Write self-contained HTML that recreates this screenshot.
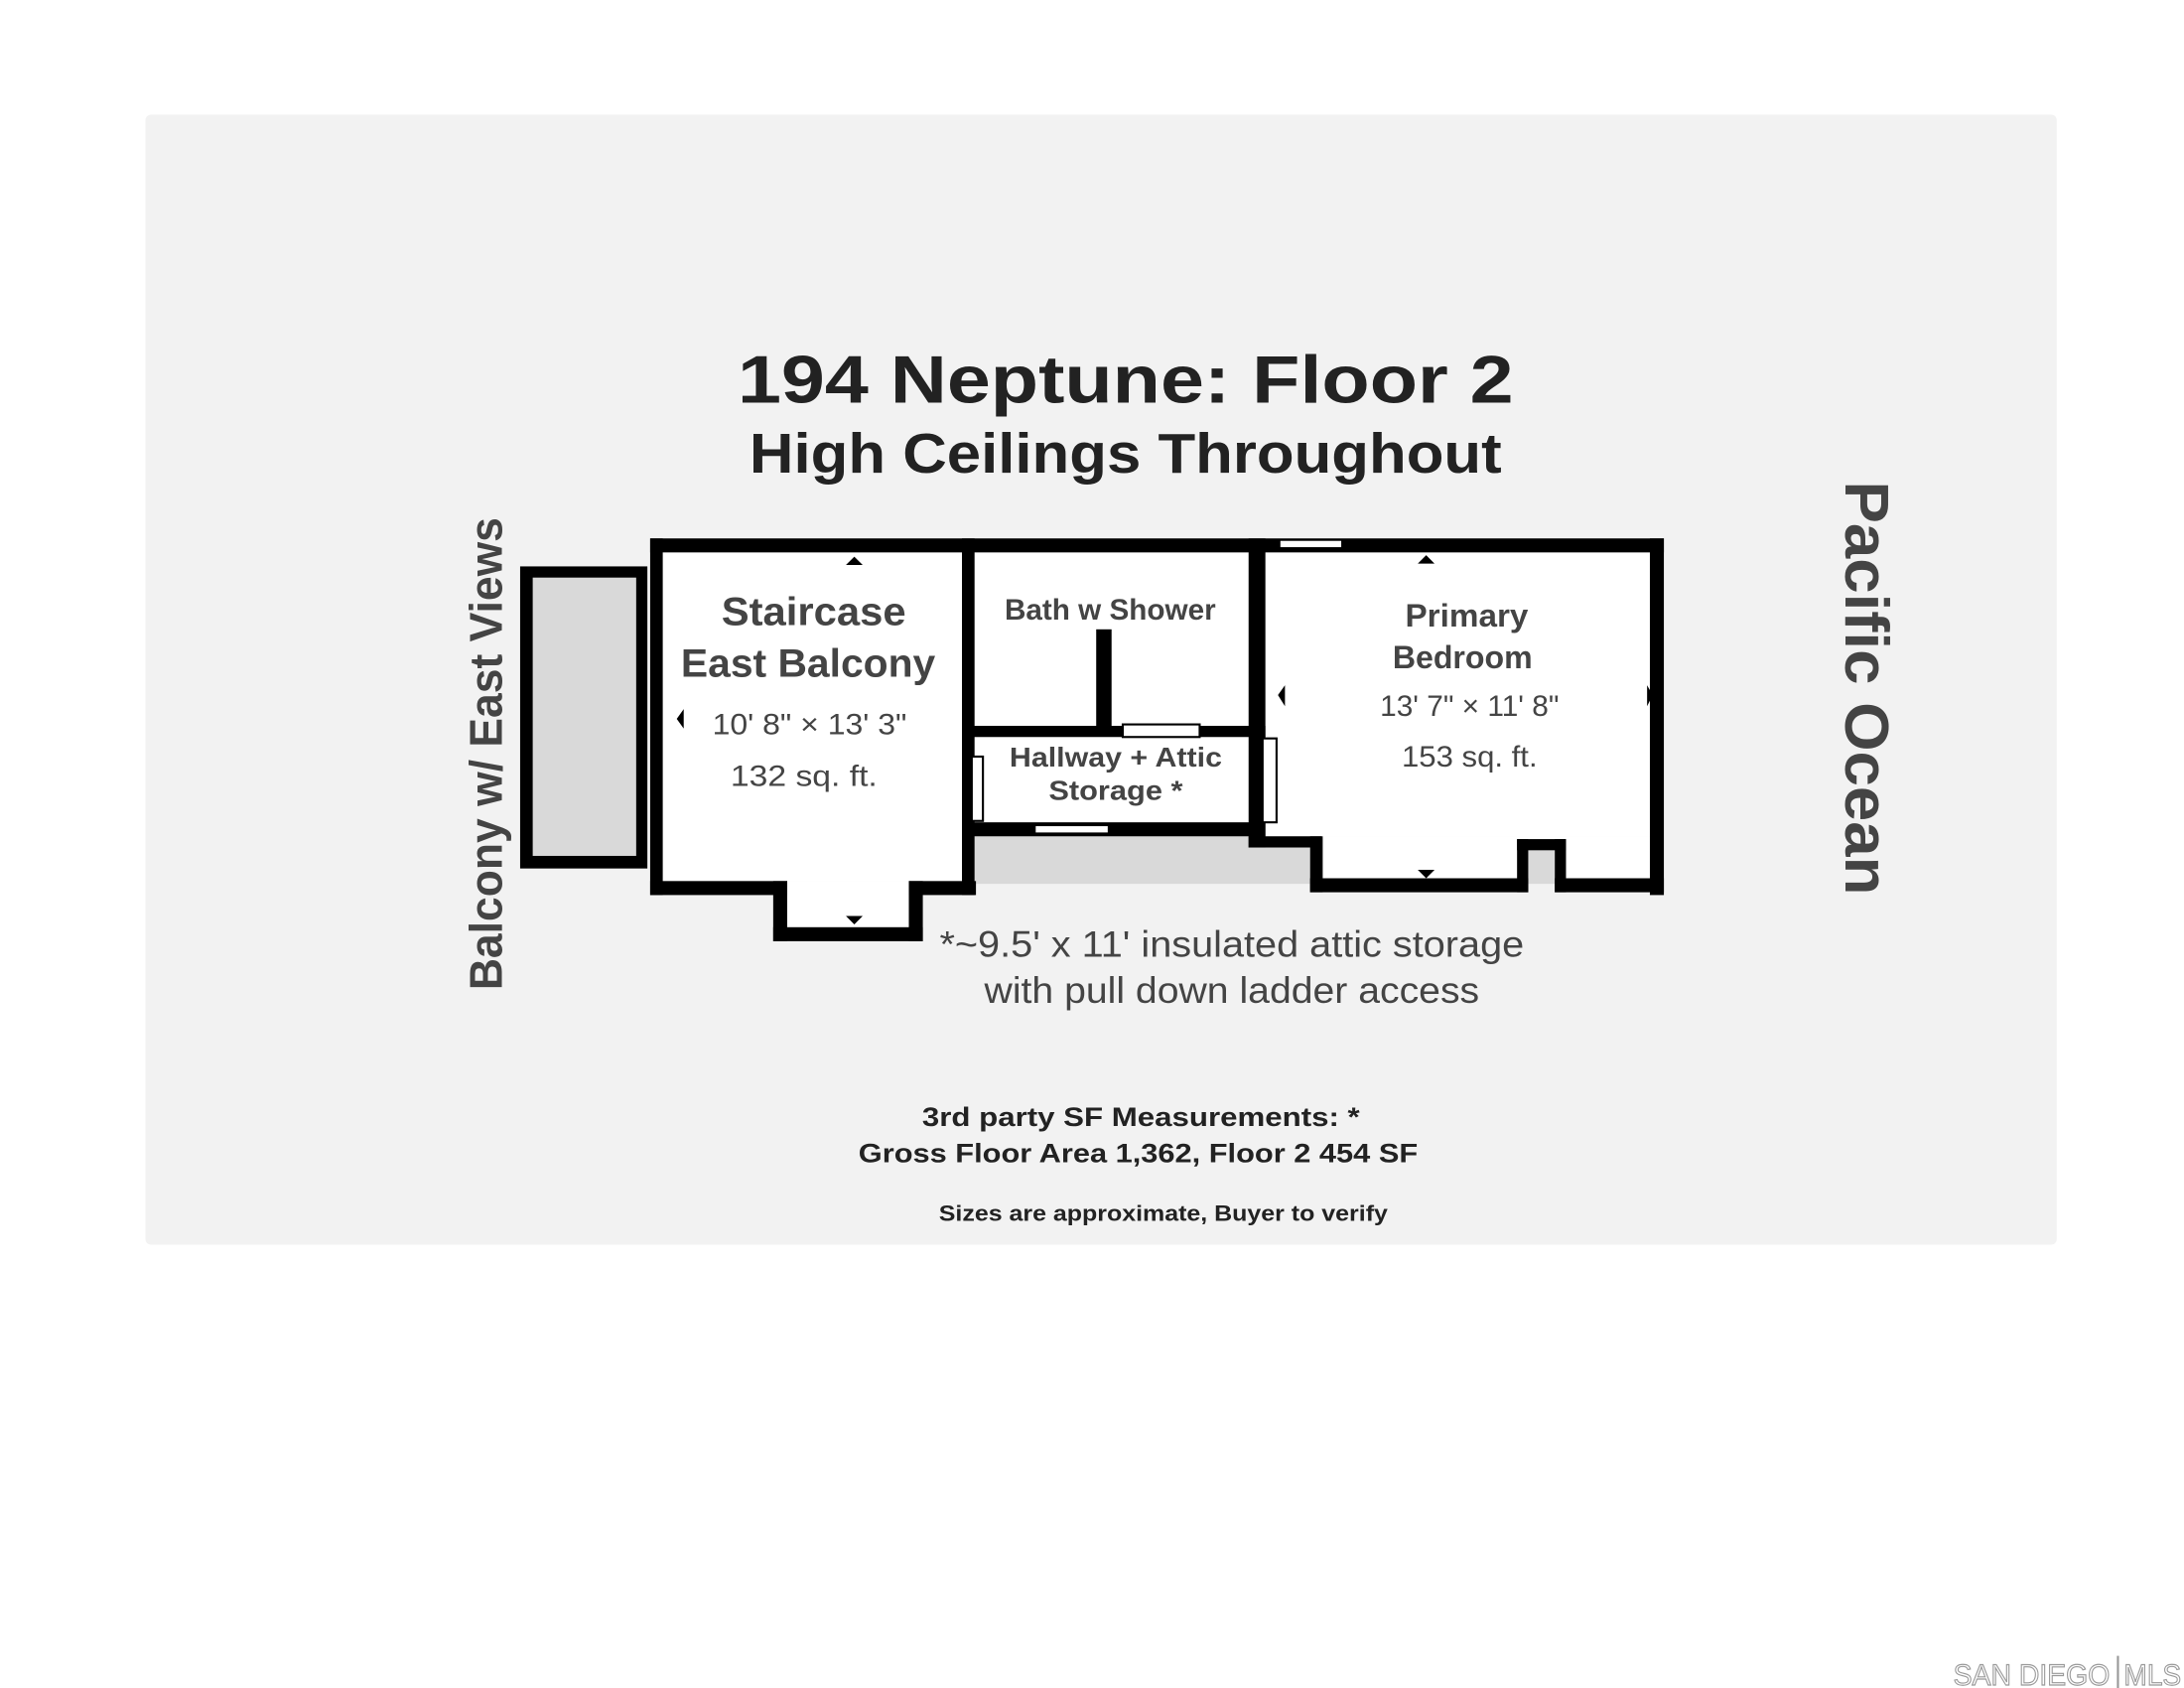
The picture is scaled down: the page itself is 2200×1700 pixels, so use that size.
<!DOCTYPE html>
<html><head><meta charset="utf-8"><style>
html,body{margin:0;padding:0;background:#fff;width:2200px;height:1700px;overflow:hidden}
svg{display:block}
text{font-family:"Liberation Sans",sans-serif}
</style></head><body>
<svg width="2200" height="1700" viewBox="0 0 1562 1207" preserveAspectRatio="none" xmlns="http://www.w3.org/2000/svg">
<rect x="0" y="0" width="1562" height="1207" fill="#fff"/>
<rect x="104" y="82" width="1367" height="808" rx="4" fill="#f2f2f2"/>

<text x="805" y="288" font-size="48" font-weight="bold" fill="#222" text-anchor="middle" textLength="555" lengthAdjust="spacingAndGlyphs">194 Neptune: Floor 2</text>
<text x="805" y="338" font-size="40" font-weight="bold" fill="#222" text-anchor="middle" textLength="538" lengthAdjust="spacingAndGlyphs">High Ceilings Throughout</text>

<!-- balcony -->
<rect x="372" y="405" width="91" height="216" fill="#000"/>
<rect x="381" y="413" width="74" height="199" fill="#d9d9d9"/>

<!-- interiors -->
<rect x="474" y="395" width="214" height="235" fill="#fff"/>
<rect x="563" y="630" width="87" height="33" fill="#fff"/>
<rect x="697" y="395" width="196" height="124" fill="#fff"/>
<rect x="697" y="527" width="196" height="61" fill="#fff"/>
<rect x="905" y="395" width="275" height="203" fill="#fff"/>
<rect x="937" y="598" width="243" height="30" fill="#fff"/>
<rect x="697" y="598" width="240" height="34" fill="#d9d9d9"/>
<rect x="1093" y="608" width="19" height="24" fill="#d9d9d9"/>

<!-- walls -->
<g fill="#000">
<rect x="465" y="385" width="725" height="10"/>
<rect x="465" y="385" width="9" height="255"/>
<rect x="465" y="630" width="98" height="10"/>
<rect x="553" y="630" width="10" height="43"/>
<rect x="553" y="663" width="107" height="10"/>
<rect x="650" y="630" width="10" height="43"/>
<rect x="650" y="630" width="48" height="10"/>
<rect x="688" y="385" width="9" height="255"/>
<rect x="893" y="385" width="12" height="221"/>
<rect x="688" y="519" width="217" height="8"/>
<rect x="688" y="588" width="217" height="10"/>
<rect x="784" y="450" width="11" height="72"/>
<rect x="893" y="598" width="52" height="8"/>
<rect x="937" y="598" width="9" height="40"/>
<rect x="937" y="628" width="156" height="10"/>
<rect x="1085" y="600" width="8" height="38"/>
<rect x="1085" y="600" width="35" height="8"/>
<rect x="1112" y="600" width="8" height="38"/>
<rect x="1112" y="628" width="78" height="10"/>
<rect x="1180" y="385" width="10" height="255"/>
</g>

<!-- doors -->
<g fill="#fff" stroke="#000" stroke-width="1.5">
<rect x="915" y="386" width="45" height="6"/>
<rect x="803" y="518" width="55" height="9"/>
<rect x="695" y="541" width="8" height="46"/>
<rect x="903" y="528" width="10" height="60"/>
<rect x="740" y="590" width="53" height="6"/>
</g>

<!-- arrows -->
<g fill="#000">
<polygon points="605,404 617,404 611,398"/>
<polygon points="605,655 617,655 611,661"/>
<polygon points="489,507 489,521 484,514"/>
<polygon points="688,507 688,521 692,514"/>
<polygon points="1014,403 1026,403 1020,397"/>
<polygon points="1014,622 1026,622 1020,628"/>
<polygon points="919,490 919,505 914,497"/>
<polygon points="1178,490 1178,505 1182,497"/>
</g>

<g fill="#444" text-anchor="middle">
<text x="582" y="447" font-size="28" font-weight="bold" textLength="132" lengthAdjust="spacingAndGlyphs">Staircase</text>
<text x="578" y="484" font-size="28" font-weight="bold" textLength="182" lengthAdjust="spacingAndGlyphs">East Balcony</text>
<text x="579" y="525" font-size="21" textLength="139" lengthAdjust="spacingAndGlyphs">10' 8" × 13' 3"</text>
<text x="575" y="562" font-size="21" textLength="105" lengthAdjust="spacingAndGlyphs">132 sq. ft.</text>
<text x="794" y="443" font-size="21" font-weight="bold" textLength="151" lengthAdjust="spacingAndGlyphs">Bath w Shower</text>
<text x="1049" y="448" font-size="23" font-weight="bold" textLength="88" lengthAdjust="spacingAndGlyphs">Primary</text>
<text x="1046" y="478" font-size="23" font-weight="bold" textLength="100" lengthAdjust="spacingAndGlyphs">Bedroom</text>
<text x="1051" y="512" font-size="21" textLength="128" lengthAdjust="spacingAndGlyphs">13' 7" × 11' 8"</text>
<text x="1051" y="548" font-size="21" textLength="97" lengthAdjust="spacingAndGlyphs">153 sq. ft.</text>
<text x="798" y="548" font-size="20" font-weight="bold" textLength="152" lengthAdjust="spacingAndGlyphs">Hallway + Attic</text>
<text x="798" y="572" font-size="20" font-weight="bold" textLength="96" lengthAdjust="spacingAndGlyphs">Storage *</text>
<text x="881" y="684" font-size="26" textLength="418" lengthAdjust="spacingAndGlyphs">*~9.5' x 11' insulated attic storage</text>
<text x="881" y="717" font-size="26" textLength="354" lengthAdjust="spacingAndGlyphs">with pull down ladder access</text>
<text transform="translate(359,539) rotate(-90)" font-size="33" font-weight="bold" textLength="338" lengthAdjust="spacingAndGlyphs">Balcony w/ East Views</text>
<text transform="translate(1320,492) rotate(90)" font-size="44" font-weight="bold" textLength="296" lengthAdjust="spacingAndGlyphs">Pacific Ocean</text>
</g>

<g fill="#222" text-anchor="middle" font-weight="bold">
<text x="816" y="805" font-size="19" textLength="313" lengthAdjust="spacingAndGlyphs">3rd party SF Measurements: *</text>
<text x="814" y="831" font-size="19" textLength="400" lengthAdjust="spacingAndGlyphs">Gross Floor Area 1,362, Floor 2 454 SF</text>
<text x="832" y="873" font-size="16" textLength="321" lengthAdjust="spacingAndGlyphs">Sizes are approximate, Buyer to verify</text>
</g>

<text x="1397" y="1205" font-size="21" fill="none" stroke="#999" stroke-width="0.8" textLength="112" lengthAdjust="spacingAndGlyphs">SAN DIEGO</text>
<rect x="1514" y="1184" width="1.5" height="23" fill="#999"/>
<text x="1519" y="1205" font-size="21" fill="none" stroke="#999" stroke-width="0.8" textLength="41" lengthAdjust="spacingAndGlyphs">MLS</text>
</svg>
</body></html>
